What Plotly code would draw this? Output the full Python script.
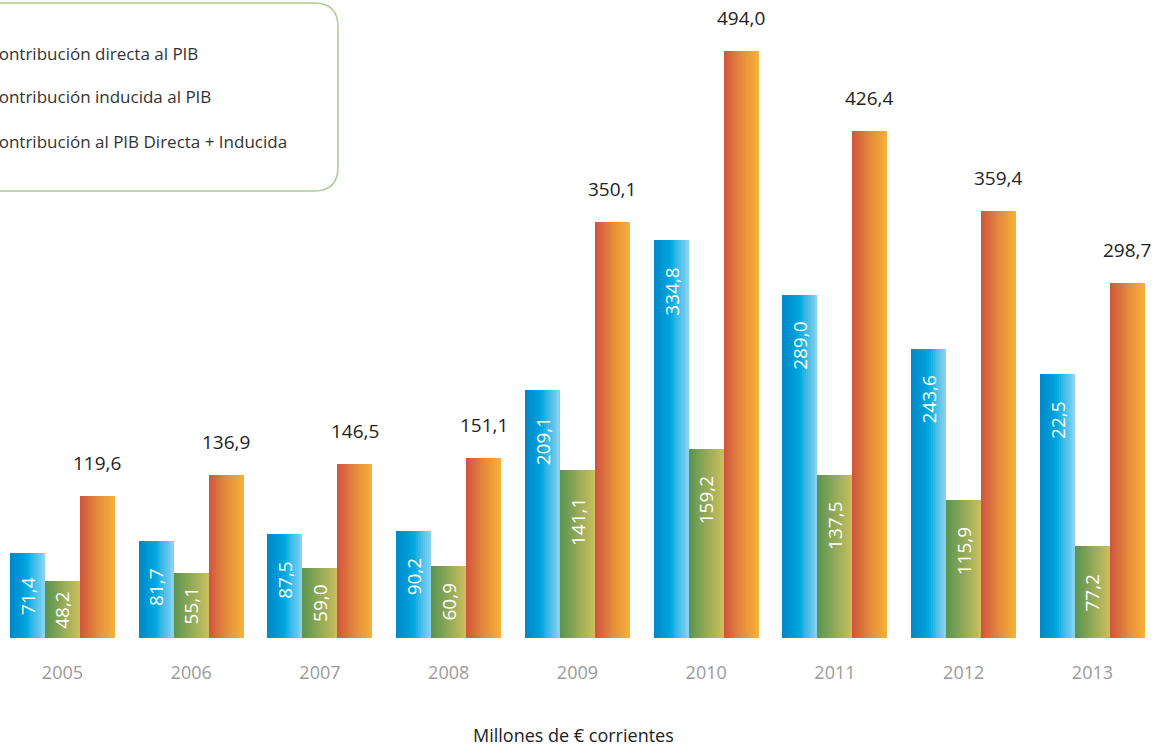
import plotly.graph_objects as go

# ---------------- data ----------------
years = ["2005", "2006", "2007", "2008", "2009", "2010", "2011", "2012", "2013"]
directa = [71.4, 81.7, 87.5, 90.2, 209.1, 334.8, 289.0, 243.6, 222.5]
directa_labels = ["71,4", "81,7", "87,5", "90,2", "209,1", "334,8", "289,0", "243,6", "22,5"]
inducida = [48.2, 55.1, 59.0, 60.9, 141.1, 159.2, 137.5, 115.9, 77.2]
inducida_labels = ["48,2", "55,1", "59,0", "60,9", "141,1", "159,2", "137,5", "115,9", "77,2"]
total = [119.6, 136.9, 146.5, 151.1, 350.1, 494.0, 426.4, 359.4, 298.7]
total_labels = ["119,6", "136,9", "146,5", "151,1", "350,1", "494,0", "426,4", "359,4", "298,7"]
legend_names = [
    "Contribución directa al PIB",
    "Contribución inducida al PIB",
    "Contribución al PIB Directa + Inducida",
]
unit_label = "Millones de € corrientes"

# ---------------- style ----------------
W, H = 1160, 747
M_T, M_B = 0, 109
PLOT_H = H - M_T - M_B
Y_MAX = 537.0
PPU = PLOT_H / Y_MAX  # px per unit
X_RANGE = [-0.485, -0.485 + W / 128.75]
BW = 0.272  # bar width in category units
FONT = "Open Sans"
N_SLICES = 18

grad_blue = [(0.0, "#0088ca"), (0.25, "#0096d4"), (0.5, "#00a8de"), (0.62, "#2cb5e5"), (1.0, "#8cd3f2")]
grad_green = [(0.0, "#5a9350"), (0.5, "#92aa58"), (1.0, "#cbbf5e")]
grad_orange = [(0.0, "#cf543f"), (0.5, "#e58a3c"), (1.0, "#f7b236")]


def hex2rgb(h):
    h = h.lstrip("#")
    return tuple(int(h[i:i + 2], 16) for i in (0, 2, 4))


def interp(stops, t):
    for (p0, c0), (p1, c1) in zip(stops[:-1], stops[1:]):
        if p0 <= t <= p1:
            f = (t - p0) / (p1 - p0) if p1 > p0 else 0
            a, b = hex2rgb(c0), hex2rgb(c1)
            return "rgb(%d,%d,%d)" % tuple(round(a[i] + (b[i] - a[i]) * f) for i in range(3))
    return stops[-1][1]


xs = list(range(len(years)))
fig = go.Figure()

series = [
    (directa, grad_blue, -1.5 * BW),
    (inducida, grad_green, -0.5 * BW),
    (total, grad_orange, 0.5 * BW),
]
step = BW / N_SLICES
for vals, grad, left in series:
    for k in range(N_SLICES):
        col = interp(grad, (k + 0.5) / N_SLICES)
        fig.add_trace(go.Bar(
            x=xs, y=vals,
            width=BW - k * step,
            offset=left + k * step,
            marker=dict(color=col, line=dict(width=0)),
            showlegend=False, hoverinfo="skip",
        ))

annotations = []
# inner rotated labels
FS_IN = 19
for vals, labs, left in [(directa, directa_labels, -1.5 * BW), (inducida, inducida_labels, -0.5 * BW)]:
    for i, (v, lab) in enumerate(zip(vals, labs)):
        bar_px = v * PPU
        ndig = len(lab) - 1
        tlen = FS_IN * (0.572 * ndig + 0.27)
        g = min(27.0, (bar_px - tlen) / 2)
        center_px = g + tlen / 2
        annotations.append(dict(
            x=i + left + BW / 2, y=v - center_px / PPU, xref="x", yref="y",
            text=lab, textangle=-90, showarrow=False,
            xanchor="center", yanchor="middle",
            font=dict(family=FONT, size=FS_IN, color="white"),
        ))
# total labels above
for i, (v, lab) in enumerate(zip(total, total_labels)):
    annotations.append(dict(
        x=i + BW, y=v, xref="x", yref="y", text=lab, showarrow=False,
        xanchor="center", yanchor="bottom", yshift=18,
        font=dict(family=FONT, size=19, color="#222222"),
    ))

# legend box (rounded rect) in paper coords
def px2x(px):
    return px / W


def py2y(py):
    return (H - M_B - py) / PLOT_H


bx0, bx1, by0, by1, r = -30, 338, 3, 191, 24
rx, ry = r / W, r / PLOT_H
X0, X1, Y0, Y1 = px2x(bx0), px2x(bx1), py2y(by1), py2y(by0)
path = (f"M {X0+rx},{Y1} L {X1-rx},{Y1} Q {X1},{Y1} {X1},{Y1-ry} "
        f"L {X1},{Y0+ry} Q {X1},{Y0} {X1-rx},{Y0} L {X0+rx},{Y0} "
        f"Q {X0},{Y0} {X0},{Y0+ry} L {X0},{Y1-ry} Q {X0},{Y1} {X0+rx},{Y1} Z")
shapes = [dict(type="path", xref="paper", yref="paper", path=path,
               line=dict(color="#a9cc92", width=1.5), fillcolor="rgba(0,0,0,0)")]

for name, py in zip(legend_names, [53, 97, 141]):
    annotations.append(dict(
        x=px2x(-14), y=py2y(py), xref="paper", yref="paper", text=name,
        showarrow=False, xanchor="left", yanchor="middle",
        font=dict(family=FONT, size=17, color="#333333"),
    ))

annotations.append(dict(
    x=px2x(573), y=py2y(735), xref="paper", yref="paper", text=unit_label,
    showarrow=False, xanchor="center", yanchor="middle",
    font=dict(family=FONT, size=18, color="#222222"),
))

fig.update_layout(
    width=W, height=H,
    margin=dict(l=0, r=0, t=M_T, b=M_B, pad=0),
    paper_bgcolor="white", plot_bgcolor="white",
    barmode="overlay", bargap=0,
    showlegend=False,
    xaxis=dict(range=X_RANGE, tickvals=xs, ticktext=years, showgrid=False,
               zeroline=False, showline=False, ticks="outside", ticklen=18,
               tickcolor="rgba(0,0,0,0)",
               tickfont=dict(family=FONT, size=18, color="#9a9a9a")),
    yaxis=dict(range=[0, Y_MAX], visible=False, showgrid=False, zeroline=False),
    shapes=shapes, annotations=annotations,
)

fig.write_html(
    "out.html",
    config={"displayModeBar": False},
    post_script="document.body.style.margin='0px';document.body.style.overflow='hidden';",
)
